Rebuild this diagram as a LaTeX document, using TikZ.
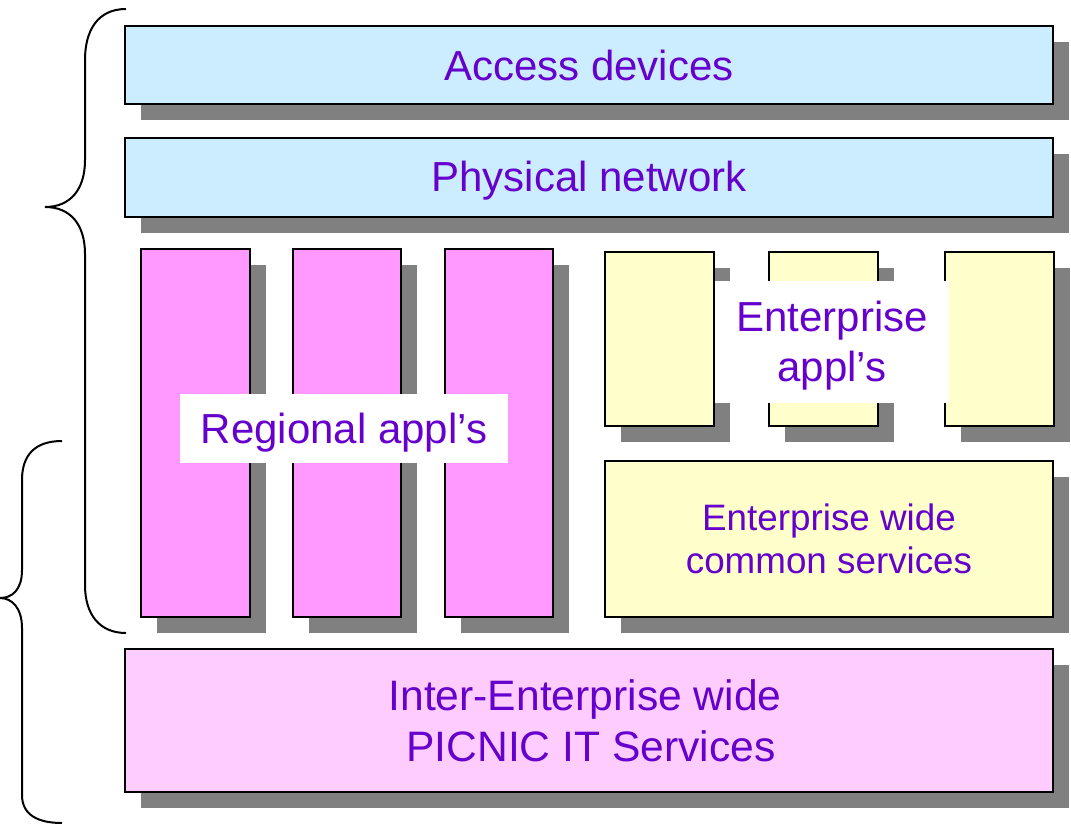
\documentclass[tikz,border=0pt]{standalone}
\usepackage{fontspec}
\setmainfont{Liberation Sans}
\usetikzlibrary{fit,shadows}
\definecolor{txt}{HTML}{6600CC}
\definecolor{lblue}{HTML}{CCECFF}
\definecolor{mpink}{HTML}{FF99FF}
\definecolor{lpink}{HTML}{FFCCFF}
\definecolor{lyel}{HTML}{FFFFCC}
\definecolor{shgray}{HTML}{808080}
\begin{document}
\begin{tikzpicture}[x=0.5pt,y=-0.5pt,
  box/.style={draw=black, line width=0.75pt, inner sep=0pt,
    drop shadow={shadow xshift=8pt, shadow yshift=-8pt, fill=shgray, opacity=1}},
  whitebox/.style={fill=white, inner sep=0pt},
  lbl/.style={text=txt, align=center, inner sep=0pt, font=\fontsize{21}{25}\selectfont},
  brace/.style={draw=black, line width=1pt}]
\useasboundingbox (0,0) rectangle (1071,824);
% top layers
\node[box, fill=lblue, fit={(125,26) (1053,104)}] (acc) {};
\node[box, fill=lblue, fit={(125,138) (1053,217)}] (phy) {};
% regional columns
\node[box, fill=mpink, fit={(141,249) (250,617)}] (r1) {};
\node[box, fill=mpink, fit={(293,249) (401,617)}] (r2) {};
\node[box, fill=mpink, fit={(445,249) (553,617)}] (r3) {};
% enterprise columns
\node[box, fill=lyel, fit={(605,252) (714,426)}] (e1) {};
\node[box, fill=lyel, fit={(769,252) (878,426)}] (e2) {};
\node[box, fill=lyel, fit={(945,252) (1054,426)}] (e3) {};
% common services
\node[box, fill=lyel, fit={(605,461) (1053,617)}] (cs) {};
% inter-enterprise
\node[box, fill=lpink, fit={(125,649) (1053,792)}] (ie) {};
% white label boxes
\node[whitebox, fit={(180,394) (508,463)}] (rl) {};
\node[whitebox, fit={(715,281) (949,403)}] (el) {};
% texts
\node[lbl] (acct) at (acc.center) {Access devices};
\node[lbl] (phyt) at ([yshift=-1.5pt]phy.center) {Physical network};
\node[lbl] (rlt) at ([yshift=-2pt]rl.center) {Regional appl’s};
\node[lbl] (elt) at ([yshift=-2pt]el.center) {Enterprise\\appl’s};
\node[lbl, font=\fontsize{18.4}{21.5}\selectfont] (cst) at (cs.center) {Enterprise wide\\common services};
\node[lbl, font=\fontsize{21.3}{25.5}\selectfont] (iet) at ([xshift=-2pt]ie.center) {Inter-Enterprise wide\\\ PICNIC IT Services};
% braces
\draw[brace] (126,9) .. controls (98,9) and (85,30) .. (85,60) -- (85,160)
  .. controls (85,190) and (70,207) .. (45,207)
  .. controls (70,207) and (85,224) .. (85,254) -- (85,585)
  .. controls (85,615) and (100,633) .. (126,633);
\draw[brace] (62,441) .. controls (35,441) and (22,455) .. (22,480) -- (22,570)
  .. controls (22,590) and (12,598) .. (0,598)
  .. controls (12,598) and (22,608) .. (22,628) -- (22,795)
  .. controls (22,815) and (38,823) .. (62,823);
\end{tikzpicture}
\end{document}
